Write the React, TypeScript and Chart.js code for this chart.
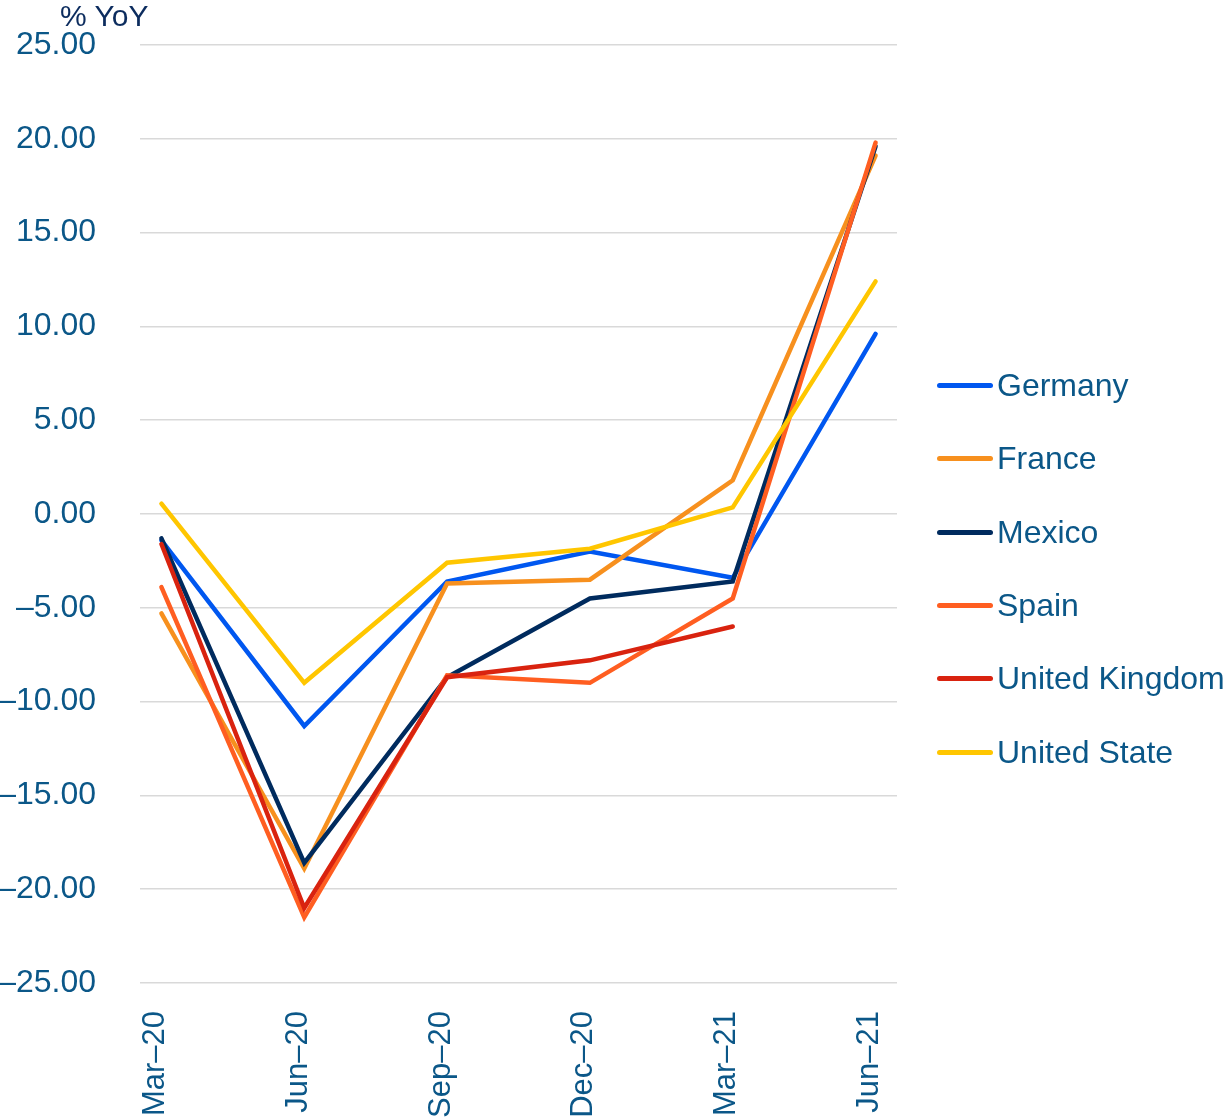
import React, { useEffect, useRef } from "react";
import { Chart, registerables } from "chart.js";

Chart.register(...registerables);

const categories = ["Mar–20", "Jun–20", "Sep–20", "Dec–20", "Mar–21", "Jun–21"];
const seriesNames = ["Germany", "France", "Mexico", "Spain", "United Kingdom", "United State"];
const germany = [-1.4, -11.3, -3.6, -2.0, -3.4, 9.6];
const france = [-5.3, -18.9, -3.7, -3.5, 1.8, 19.1];
const mexico = [-1.3, -18.6, -8.7, -4.5, -3.6, 19.6];
const spain = [-3.9, -21.5, -8.6, -9.0, -4.5, 19.8];
const unitedKingdom = [-1.6, -21.0, -8.7, -7.8, -6.0, null];
const unitedStates = [0.55, -9.0, -2.6, -1.85, 0.35, 12.4];
const seriesValues = [germany, france, mexico, spain, unitedKingdom, unitedStates];
const seriesColors = ["#0057F0", "#F7901E", "#002B5E", "#FF5E21", "#D9230F", "#FFC600"];
const yTickValues = [25, 20, 15, 10, 5, 0, -5, -10, -15, -20, -25];

const FONT = "'Liberation Sans', Arial, Helvetica, sans-serif";
const TICK_COLOR = "#0B5788";

function fmt(v: number): string {
  return (v < 0 ? "–" : "") + Math.abs(v).toFixed(2);
}

export default function App() {
  const canvasRef = useRef<HTMLCanvasElement | null>(null);

  useEffect(() => {
    if (!canvasRef.current) return;
    const chart = new Chart(canvasRef.current, {
      type: "line",
      data: {
        datasets: seriesNames.map((name, i) => ({
          label: name,
          data: seriesValues[i].map((v, j) => ({ x: j, y: v as number | null })),
          borderColor: seriesColors[i],
          backgroundColor: seriesColors[i],
          borderWidth: 4.5,
          borderCapStyle: "round" as const,
          borderJoinStyle: "miter" as const,
          pointRadius: 0,
          pointHoverRadius: 0,
          tension: 0,
          spanGaps: false,
          order: seriesNames.length - i,
        })),
      },
      options: {
        animation: false,
        responsive: false,
        maintainAspectRatio: false,
        layout: { padding: { left: 0, right: 335, top: 45, bottom: 2 } },
        plugins: {
          legend: { display: false },
          tooltip: { enabled: false },
          title: { display: false },
        },
        scales: {
          x: {
            type: "linear",
            min: -0.15,
            max: 5.15,
            grid: { display: false, drawTicks: false },
            border: { display: false },
            afterFit: (scale: any) => {
              scale.height = 135;
            },
            ticks: {
              stepSize: 1,
              includeBounds: false,
              autoSkip: false,
              maxRotation: 90,
              minRotation: 90,
              padding: 28,
              labelOffset: -6,
              color: TICK_COLOR,
              font: { family: FONT, size: 31 },
              callback: (v: any) => {
                const n = Number(v);
                return Number.isInteger(n) && categories[n] ? categories[n] : "";
              },
            },
          },
          y: {
            min: -25,
            max: 25,
            afterBuildTicks: (scale: any) => {
              scale.ticks = yTickValues.map((v) => ({ value: v }));
            },
            afterFit: (scale: any) => {
              scale.width = 140;
              scale.paddingTop = 0;
              scale.paddingBottom = 0;
            },
            grid: { color: "#D9D9D9", lineWidth: 1.5, drawTicks: false },
            border: { display: false },
            ticks: {
              padding: 44,
              color: TICK_COLOR,
              font: { family: FONT, size: 32 },
              callback: (v: any) => fmt(Number(v)),
            },
          },
        },
      },
    });
    return () => chart.destroy();
  }, []);

  return (
    <div style={{ position: "absolute", left: 0, top: 0, width: 1232, height: 1120, background: "#fff" }}>
      <canvas ref={canvasRef} width={1232} height={1120} style={{ display: "block", width: 1232, height: 1120 }} />
      <div
        style={{
          position: "absolute",
          left: 60,
          top: 0,
          fontFamily: FONT,
          fontSize: 30,
          lineHeight: "32px",
          color: "#0C2C5E",
          whiteSpace: "nowrap",
        }}
      >
        % YoY
      </div>
      <div style={{ position: "absolute", left: 937, top: 349, fontFamily: FONT }}>
        {seriesNames.map((name, i) => (
          <div key={name} style={{ display: "flex", alignItems: "center", height: 73.3 }}>
            <div style={{ width: 56, height: 5, borderRadius: 3, background: seriesColors[i], marginRight: 4 }} />
            <span style={{ fontSize: 32, color: TICK_COLOR, whiteSpace: "nowrap" }}>{name}</span>
          </div>
        ))}
      </div>
    </div>
  );
}
